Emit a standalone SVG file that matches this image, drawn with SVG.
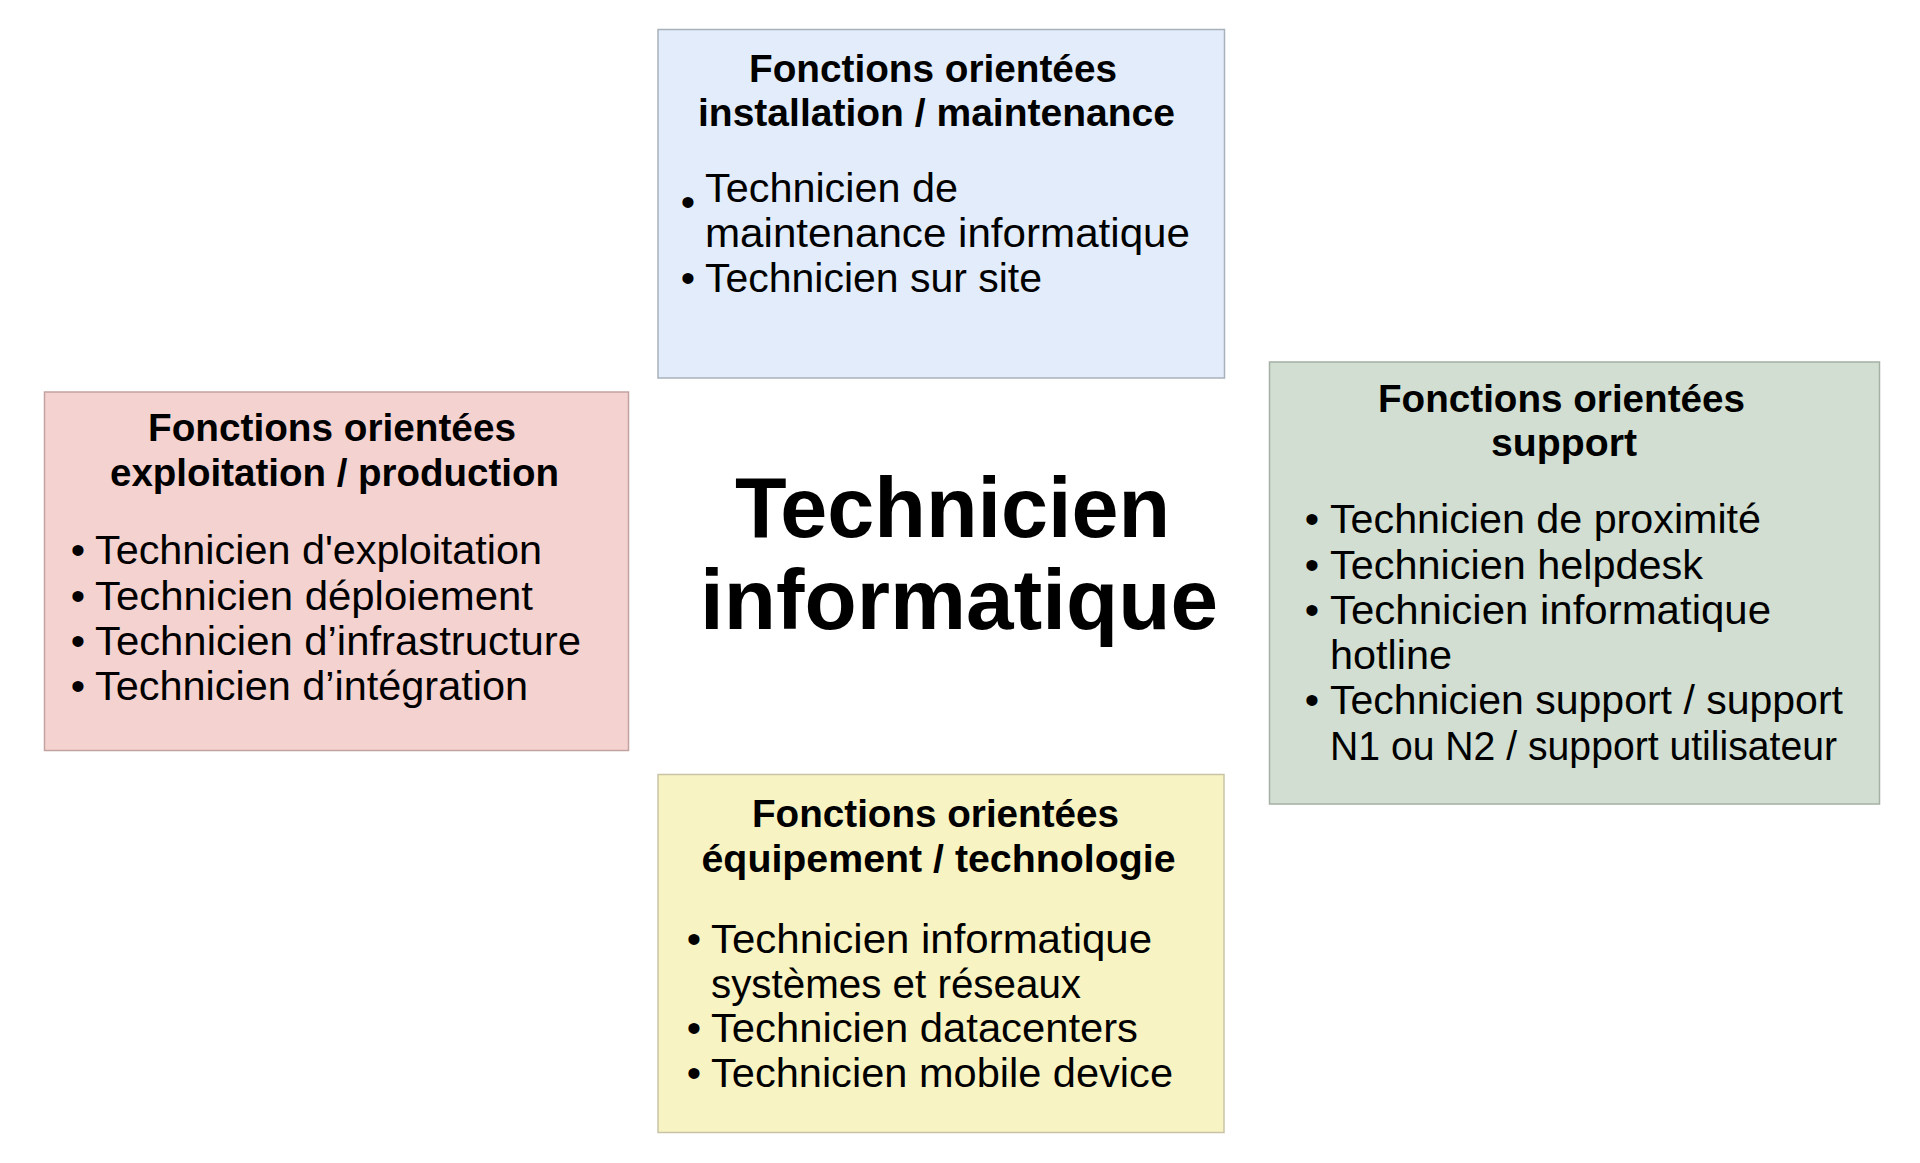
<svg xmlns="http://www.w3.org/2000/svg" width="1920" height="1163" viewBox="0 0 1920 1163">
<style>
.box{stroke-width:1.5}
.h{font-family:"Liberation Sans",Arial,sans-serif;font-weight:bold;font-size:39px;fill:#000}
.b{font-family:"Liberation Sans",Arial,sans-serif;font-size:41px;fill:#000}
.d{font-family:"Liberation Sans",Arial,sans-serif;font-size:41px;fill:#000;text-anchor:middle}
.c{font-family:"Liberation Sans",Arial,sans-serif;font-weight:bold;font-size:85px;fill:#000}
</style>
<rect width="1920" height="1163" fill="#ffffff"/>
<g id="connectors"></g>
<g id="center">
<text class="c" x="735" y="537" textLength="435" lengthAdjust="spacingAndGlyphs">Technicien</text>
<text class="c" x="700" y="629" textLength="518" lengthAdjust="spacingAndGlyphs">informatique</text>
</g>
<g id="installation">
<rect class="box" x="658" y="29.5" width="566.5" height="348.5" fill="#E2ECFA" stroke="#A9B1BA"/>
<text class="h" x="749" y="82" textLength="368" lengthAdjust="spacingAndGlyphs">Fonctions orientées</text>
<text class="h" x="698" y="126" textLength="477" lengthAdjust="spacingAndGlyphs">installation / maintenance</text>
<text class="d" x="688" y="216">•</text>
<text class="b" x="705" y="202" textLength="253" lengthAdjust="spacingAndGlyphs">Technicien de</text>
<text class="b" x="705" y="247" textLength="485" lengthAdjust="spacingAndGlyphs">maintenance informatique</text>
<text class="d" x="688" y="292">•</text>
<text class="b" x="705" y="292" textLength="337" lengthAdjust="spacingAndGlyphs">Technicien sur site</text>
</g>
<g id="exploitation">
<rect class="box" x="44.5" y="392" width="584" height="358.5" fill="#F3D2D0" stroke="#C3A3A1"/>
<text class="h" x="148" y="441" textLength="368" lengthAdjust="spacingAndGlyphs">Fonctions orientées</text>
<text class="h" x="110" y="486" textLength="449" lengthAdjust="spacingAndGlyphs">exploitation / production</text>
<text class="d" x="78" y="564">•</text>
<text class="b" x="95" y="564" textLength="447" lengthAdjust="spacingAndGlyphs">Technicien d'exploitation</text>
<text class="d" x="78" y="610">•</text>
<text class="b" x="95" y="610" textLength="438" lengthAdjust="spacingAndGlyphs">Technicien déploiement</text>
<text class="d" x="78" y="655">•</text>
<text class="b" x="95" y="655" textLength="486" lengthAdjust="spacingAndGlyphs">Technicien d’infrastructure</text>
<text class="d" x="78" y="700">•</text>
<text class="b" x="95" y="700" textLength="433" lengthAdjust="spacingAndGlyphs">Technicien d’intégration</text>
</g>
<g id="support">
<rect class="box" x="1269.5" y="362" width="610" height="442" fill="#D1DED1" stroke="#A4B0A4"/>
<text class="h" x="1378" y="412" textLength="367" lengthAdjust="spacingAndGlyphs">Fonctions orientées</text>
<text class="h" x="1491" y="456" textLength="146" lengthAdjust="spacingAndGlyphs">support</text>
<text class="d" x="1312" y="533">•</text>
<text class="b" x="1330" y="533" textLength="431" lengthAdjust="spacingAndGlyphs">Technicien de proximité</text>
<text class="d" x="1312" y="579">•</text>
<text class="b" x="1330" y="579" textLength="373" lengthAdjust="spacingAndGlyphs">Technicien helpdesk</text>
<text class="d" x="1312" y="624">•</text>
<text class="b" x="1330" y="624" textLength="441" lengthAdjust="spacingAndGlyphs">Technicien informatique</text>
<text class="b" x="1330" y="669" textLength="122" lengthAdjust="spacingAndGlyphs">hotline</text>
<text class="d" x="1312" y="714">•</text>
<text class="b" x="1330" y="714" textLength="513" lengthAdjust="spacingAndGlyphs">Technicien support / support</text>
<text class="b" x="1330" y="760" textLength="507" lengthAdjust="spacingAndGlyphs">N1 ou N2 / support utilisateur</text>
</g>
<g id="equipement">
<rect class="box" x="658" y="774.5" width="566" height="358" fill="#F8F3C3" stroke="#C9C3A6"/>
<text class="h" x="752" y="827" textLength="367" lengthAdjust="spacingAndGlyphs">Fonctions orientées</text>
<text class="h" x="701.5" y="872" textLength="474" lengthAdjust="spacingAndGlyphs">équipement / technologie</text>
<text class="d" x="694" y="953">•</text>
<text class="b" x="711" y="953" textLength="441" lengthAdjust="spacingAndGlyphs">Technicien informatique</text>
<text class="b" x="711" y="998" textLength="370" lengthAdjust="spacingAndGlyphs">systèmes et réseaux</text>
<text class="d" x="694" y="1042">•</text>
<text class="b" x="711" y="1042" textLength="427" lengthAdjust="spacingAndGlyphs">Technicien datacenters</text>
<text class="d" x="694" y="1087">•</text>
<text class="b" x="711" y="1087" textLength="462" lengthAdjust="spacingAndGlyphs">Technicien mobile device</text>
</g>
</svg>
